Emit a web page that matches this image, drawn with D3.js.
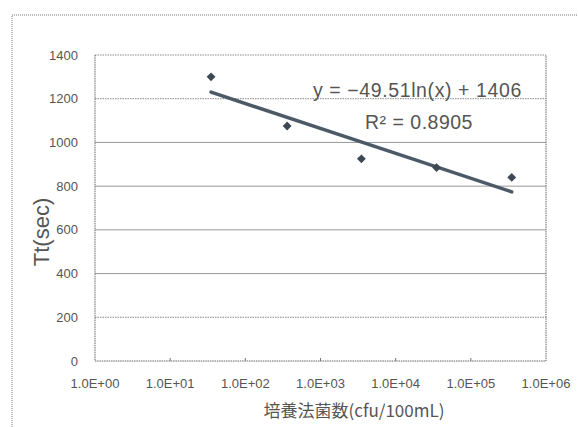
<!DOCTYPE html>
<html>
<head>
<meta charset="utf-8">
<script src="https://cdn.jsdelivr.net/npm/d3@7"></script>
<style>
  body { margin: 0; background: #fff; }
  svg { display: block; font-family: "Liberation Sans", Arial, sans-serif; }
</style>
</head>
<body>
<svg width="578" height="427"></svg>
<script>
// データ
const counts = [35, 360, 3500, 35000, 350000];      // 培養法菌数 (cfu/100mL)
const times = [1300, 1075, 925, 885, 840];          // Tt (sec)
const xTicks = [1, 10, 100, 1000, 10000, 100000, 1000000];
const xTickLabels = ["1.0E+00", "1.0E+01", "1.0E+02", "1.0E+03", "1.0E+04", "1.0E+05", "1.0E+06"];
const yTicks = [0, 200, 400, 600, 800, 1000, 1200, 1400];
const dottedY = [200, 1200, 1400];
const trendSlope = -49.51, trendIntercept = 1406;
const trendLabel = "y = −49.51ln(x) + 1406";
const r2Label = "R² = 0.8905";

const svg = d3.select("svg");

// 外枠
svg.append("rect")
  .attr("x", 12).attr("y", 15)
  .attr("width", 600).attr("height", 430)
  .attr("fill", "none")
  .attr("stroke", "#777")
  .attr("stroke-dasharray", "1,1");

const x = d3.scaleLog().domain([1, 1e6]).range([95, 546]);
const y = d3.scaleLinear().domain([0, 1400]).range([361, 55]);

// グリッド線
svg.append("g")
  .selectAll("line")
  .data(yTicks.filter(d => d > 0))
  .enter()
  .append("line")
  .attr("x1", x(1)).attr("x2", x(1e6))
  .attr("y1", d => y(d)).attr("y2", d => y(d))
  .attr("stroke", d => dottedY.includes(d) ? "#888" : "#999")
  .attr("stroke-dasharray", d => dottedY.includes(d) ? "1.5,1" : null);

// 枠 (左・右・下)
svg.append("path")
  .attr("d", `M${x(1)},${y(1400)}V${y(0)}H${x(1e6)}V${y(1400)}`)
  .attr("fill", "none")
  .attr("stroke", "#666")
  .attr("stroke-dasharray", "1.5,0.8");

// X目盛
svg.append("g")
  .selectAll("line")
  .data(xTicks.slice(1, -1))
  .enter()
  .append("line")
  .attr("x1", d => x(d)).attr("x2", d => x(d))
  .attr("y1", y(0)).attr("y2", y(0) - 3)
  .attr("stroke", "#777");

svg.append("g")
  .selectAll("text")
  .data(xTicks)
  .enter()
  .append("text")
  .attr("x", d => x(d))
  .attr("y", 388)
  .attr("text-anchor", "middle")
  .attr("font-size", 13)
  .attr("fill", "#555")
  .text((d, i) => xTickLabels[i]);

// Y目盛
svg.append("g")
  .selectAll("text")
  .data(yTicks)
  .enter()
  .append("text")
  .attr("x", 78)
  .attr("y", d => y(d))
  .attr("dy", "0.35em")
  .attr("text-anchor", "end")
  .attr("font-size", 13)
  .attr("fill", "#555")
  .text(d => d);

// 軸タイトル
svg.append("text")
  .attr("transform", "translate(49,232) rotate(-90)")
  .attr("text-anchor", "middle")
  .attr("font-size", 22)
  .attr("fill", "#555")
  .text("Tt(sec)");

svg.append("text")
  .attr("x", 354)
  .attr("y", 417)
  .attr("text-anchor", "middle")
  .attr("font-family", "'Noto Sans CJK JP', sans-serif")
  .attr("font-size", 17)
  .attr("fill", "#555")
  .text("培養法菌数(cfu/100mL)");

// 近似曲線
const xMin = d3.min(counts), xMax = d3.max(counts);
svg.append("line")
  .attr("x1", x(xMin)).attr("y1", y(trendSlope * Math.log(xMin) + trendIntercept))
  .attr("x2", x(xMax)).attr("y2", y(trendSlope * Math.log(xMax) + trendIntercept))
  .attr("stroke", "#4c5a67")
  .attr("stroke-width", 3.5)
  .attr("stroke-linecap", "round");

// データ点
svg.append("g")
  .selectAll("path")
  .data(counts)
  .enter()
  .append("path")
  .attr("d", d3.symbol(d3.symbolDiamond2, 50))
  .attr("transform", (d, i) => `translate(${x(d)},${y(times[i])})`)
  .attr("fill", "#3d4853");

// 式
svg.append("text")
  .attr("x", 313).attr("y", 97)
  .attr("font-size", 19.5)
  .attr("letter-spacing", 0.6)
  .attr("fill", "#555")
  .text(trendLabel);

svg.append("text")
  .attr("x", 365).attr("y", 129)
  .attr("font-size", 19.5)
  .attr("letter-spacing", 0.5)
  .attr("fill", "#555")
  .text(r2Label);
</script>
</body>
</html>
